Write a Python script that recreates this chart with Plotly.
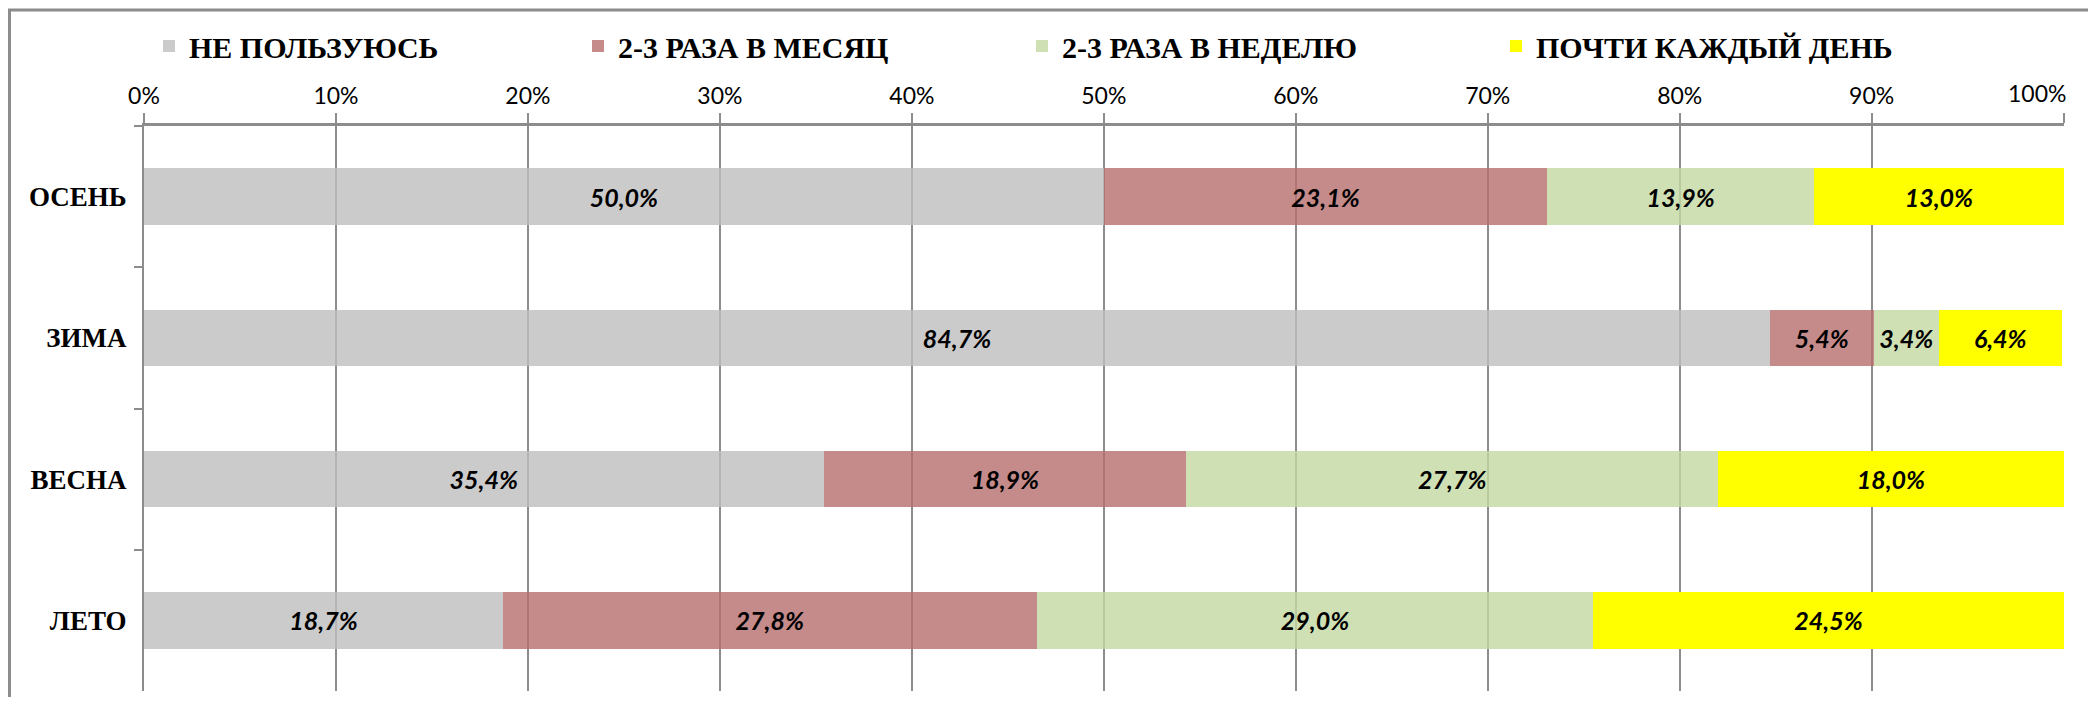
import plotly.graph_objects as go

categories = ["ОСЕНЬ", "ЗИМА", "ВЕСНА", "ЛЕТО"]
series_names = ["НЕ ПОЛЬЗУЮСЬ", "2-3 РАЗА В МЕСЯЦ", "2-3 РАЗА В НЕДЕЛЮ", "ПОЧТИ КАЖДЫЙ ДЕНЬ"]
never = [50.0, 84.7, 35.4, 18.7]
monthly = [23.1, 5.4, 18.9, 27.8]
weekly = [13.9, 3.4, 27.7, 29.0]
daily = [13.0, 6.4, 18.0, 24.5]
tick_values = [0, 10, 20, 30, 40, 50, 60, 70, 80, 90, 100]
tick_labels = ["0%", "10%", "20%", "30%", "40%", "50%", "60%", "70%", "80%", "90%", "100%"]

colors = ["rgba(191,191,191,0.81)", "rgba(182,112,111,0.81)", "rgba(197,217,164,0.81)", "#FFFF00"]
series = [never, monthly, weekly, daily]
legend_ids = ["legend", "legend2", "legend3", "legend4"]

# page has an 8px body margin; figure coordinates = page coordinates - 8
OFF = 8
W, H = 2096 - 2 * OFF, 705 - 2 * OFF
ML, MT = 144 - OFF, 126 - OFF
MR = W - (2064 - OFF)
MB = H - (691 - OFF)
PW = W - ML - MR
PH = H - MT - MB
legend_px = [149 - OFF, 578 - OFF, 1022 - OFF, 1496 - OFF]
legend_py = 46 - OFF

def fmt(v):
    return f"{v:.1f}".replace(".", ",") + "%"

fig = go.Figure()
for name, vals, col, lg in zip(series_names, series, colors, legend_ids):
    fig.add_trace(go.Bar(
        y=categories, x=vals, name=name, orientation="h",
        marker=dict(color=col, line=dict(width=0)),
        text=[fmt(v) for v in vals],
        textposition="inside", insidetextanchor="middle", textangle=0,
        constraintext="none",
        textfont=dict(family="Lato", size=25, color="black", weight="bold", style="italic"),
        legend=lg,
        hoverinfo="skip",
    ))

gray = "#8C8C8C"
tick_font = dict(family="Lato", size=23, color="black")
shapes = [dict(type="rect", xref="paper", yref="paper",
               x0=(1.5 - ML) / PW, x1=1.3, y0=-0.5, y1=1 + (MT - 2) / PH,
               line=dict(color=gray, width=3), layer="below")]

# last tick label is pulled inside the chart edge (as in the original)
shown_ticktext = tick_labels[:-1] + [""]
annotations = [dict(x=tick_values[-1], y=1, xref="x", yref="paper",
                    text=tick_labels[-1], showarrow=False,
                    xanchor="right", yanchor="middle", xshift=4, yshift=33,
                    font=tick_font)]

layout_legends = {}
for lg, lx in zip(legend_ids, legend_px):
    layout_legends[lg] = dict(
        x=lx / W, y=1 - legend_py / H, xref="container", yref="container",
        xanchor="left", yanchor="middle",
        orientation="h", bgcolor="rgba(0,0,0,0)", borderwidth=0,
        font=dict(family="Liberation Serif", size=30, color="black", weight="bold"),
        tracegroupgap=0,
    )

fig.update_layout(
    width=W, height=H,
    margin=dict(l=ML, r=MR, t=MT, b=MB, pad=0, autoexpand=False),
    barmode="stack", bargap=0.6,
    plot_bgcolor="white", paper_bgcolor="white",
    showlegend=True,
    shapes=shapes,
    annotations=annotations,
    xaxis=dict(
        side="top", range=[0, 100.02], tickvals=tick_values, ticktext=shown_ticktext,
        showgrid=True, gridcolor=gray, gridwidth=2,
        zeroline=False, automargin=False,
        showline=True, linecolor=gray, linewidth=3,
        ticks="outside", ticklen=10, tickcolor=gray, tickwidth=2,
        ticklabelstandoff=0, ticklabeloverflow="allow",
        tickfont=tick_font,
        fixedrange=True,
    ),
    yaxis=dict(
        categoryorder="array", categoryarray=categories, autorange="reversed",
        showgrid=False, zeroline=False, automargin=False,
        showline=True, linecolor=gray, linewidth=2,
        ticks="outside", ticklen=8, tickcolor=gray, tickwidth=2,
        tickson="boundaries",
        ticklabelstandoff=10,
        tickfont=dict(family="Liberation Serif", size=27, color="black", weight="bold"),
        fixedrange=True,
    ),
    **layout_legends,
)

fig.write_html("out.html")
